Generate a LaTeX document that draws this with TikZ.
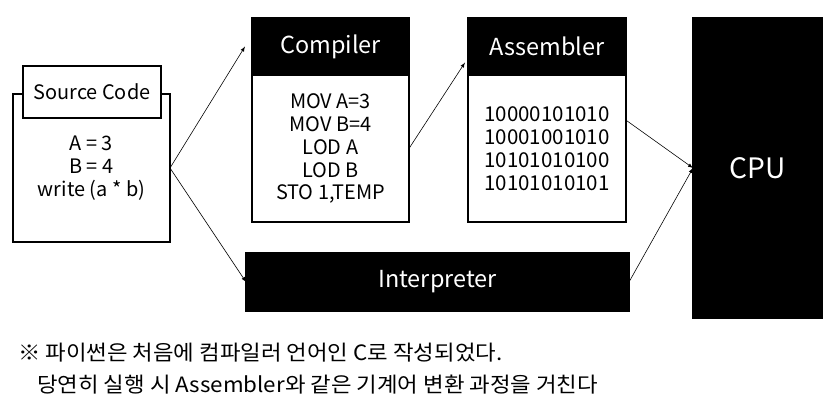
\documentclass[tikz,border=0pt]{standalone}
\usepackage{fontspec}
\setmainfont{Noto Sans CJK KR}
\newfontfamily\krnote[FakeStretch=1.06]{Noto Sans CJK KR}
\usetikzlibrary{positioning}

\begin{document}
\begin{tikzpicture}[x=0.03cm,y=-0.03cm,
  box/.style={draw,line width=1.2pt,fill=white,outer sep=0pt,align=center,
    font=\fontsize{17}{19.6}\selectfont},
  head/.style={draw,fill=black,text=white,line width=1.2pt,outer sep=0pt,
    font=\fontsize{20}{24}\selectfont},
  note/.style={anchor=west,inner sep=0pt,font=\krnote\fontsize{18}{22}\selectfont},
  arr/.style={->,>=latex,line width=0.5pt}]

\useasboundingbox (0,0) rectangle (833,408);

% source code
\node[box,minimum width=4.71cm,minimum height=4.44cm] (src) at (91.5,168) {A = 3\\B = 4\\write (a * b)};
\node[box,minimum width=4.14cm,minimum height=1.56cm] (srctitle) at (92,92) {Source Code};

% compiler
\node[head,minimum width=4.71cm,minimum height=1.71cm] (comp) at (330.5,46.5) {Compiler};
\node[box,minimum width=4.71cm,minimum height=4.41cm,below=0pt of comp] (compbody)
  {MOV A=3\\MOV B=4\\LOD A\\LOD B\\STO 1,TEMP};

% assembler
\node[head,minimum width=4.74cm,minimum height=1.71cm] (asm) at (547,46.5) {Assembler};
\node[box,minimum width=4.74cm,minimum height=4.41cm,below=0pt of asm,
  font=\fontsize{17.5}{19.6}\selectfont] (asmbody)
  {10000101010\\10001001010\\10101010100\\10101010101};

% interpreter and cpu
\node[head,minimum width=11.49cm,minimum height=1.74cm] (interp) at (437.5,282) {Interpreter};
\node[head,minimum width=3.87cm,minimum height=9cm,font=\fontsize{24}{28}\selectfont] (cpu) at (757.5,168) {CPU};

\draw[arr] (src.east) -- ([xshift=-0.21cm]comp.west);
\draw[arr] (src.east) -- (interp.west);
\draw[arr] (compbody.east) -- ([xshift=-0.09cm,yshift=-0.48cm]asm.west);
\draw[arr] ([yshift=0.85cm]asmbody.east) -- (cpu.west);
\draw[arr] (interp.east) -- (cpu.west);

% note
\node[note] (note1) at (18,353) {※ 파이썬은 처음에 컴파일러 언어인 C로 작성되었다.};
\node[note] (note2) at (37,385) {당연히 실행 시 Assembler와 같은 기계어 변환 과정을 거친다};
\end{tikzpicture}
\end{document}
